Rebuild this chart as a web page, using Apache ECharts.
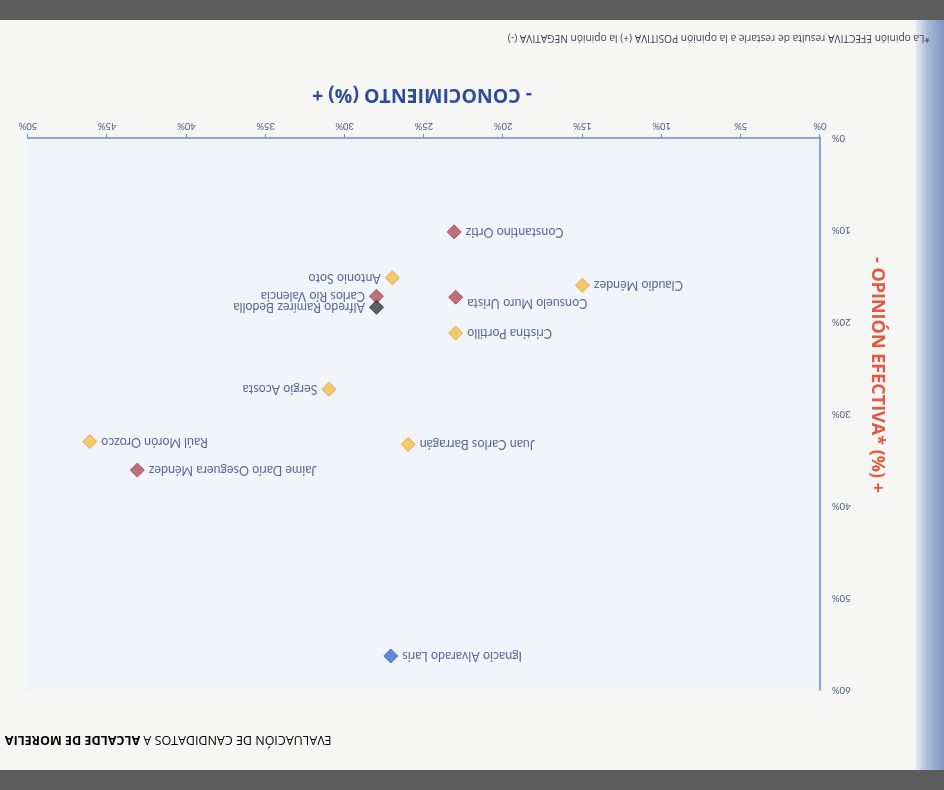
<!DOCTYPE html>
<html>
<head>
<meta charset="utf-8">
<script src="https://cdn.jsdelivr.net/npm/echarts@6/dist/echarts.min.js"></script>
<style>
  html, body { margin: 0; padding: 0; background: #f6f6f4; }
  #wrap { width: 944px; height: 790px; transform: rotate(180deg); transform-origin: 50% 50%; }
  #chart { width: 944px; height: 790px; }
</style>
</head>
<body>
<div id="wrap"><div id="chart"></div></div>
<script>
// ---- DATA ----
const candidatos = [
  "Constantino Ortiz", "Antonio Soto", "Claudio Méndez", "Consuelo Muro Urista",
  "Carlos Río Valencia", "Alfredo Ramírez Bedolla", "Cristina Portillo", "Sergio Acosta",
  "Raúl Morón Orozco", "Juan Carlos Barragán", "Jaime Darío Oseguera Méndez", "Ignacio Alvarado Laris"
];
const conocimiento = [23.1, 27.0, 15.0, 23.0, 28.0, 28.0, 23.0, 31.0, 46.1, 26.0, 43.1, 27.1];
const opinionEfectiva = [10.2, 15.2, 16.0, 17.3, 17.2, 18.4, 21.2, 27.3, 33.0, 33.3, 36.1, 56.3];
const grupo = ["rojo", "amarillo", "amarillo", "rojo", "rojo", "negro", "amarillo", "amarillo", "amarillo", "amarillo", "rojo", "azul"];
const xTicks = [0, 5, 10, 15, 20, 25, 30, 35, 40, 45, 50];
const yTicks = [0, 10, 20, 30, 40, 50, 60];
const titulo = ["EVALUACIÓN DE CANDIDATOS A ", "ALCALDE DE MORELIA"];
const ejeX = "- CONOCIMIENTO (%) +";
const ejeY = "- OPINIÓN EFECTIVA* (%) +";
const nota = "*La opinión EFECTIVA resulta de restarle a la opinión POSITIVA (+) la opinión NEGATIVA (-)";

// ---- STYLE ----
const estilos = {
  amarillo: { color: "#f4be4a", borderColor: "#e69a2c" },
  rojo:     { color: "#b04f5c", borderColor: "#9a3f4c" },
  negro:    { color: "#3a3a3e", borderColor: "#2a2a2e" },
  azul:     { color: "#3b6fd0", borderColor: "#2f5cb5" }
};
const etiquetaDerecha = new Set(["Antonio Soto", "Carlos Río Valencia", "Alfredo Ramírez Bedolla", "Sergio Acosta"]);

const grupos = ["amarillo", "rojo", "negro", "azul"];
const series = grupos.map(g => ({
  type: "scatter",
  name: g,
  symbol: "diamond",
  symbolSize: 14,
  itemStyle: { color: estilos[g].color, borderColor: estilos[g].borderColor, borderWidth: 1 },
  label: {
    show: true,
    formatter: p => p.data.name,
    color: "#33457a",
    fontFamily: "Lato",
    fontSize: 12.5,
    distance: 4
  },
  data: candidatos.map((n, i) => ({ n, i })).filter(o => grupo[o.i] === g).map(o => ({
    name: o.n,
    value: [conocimiento[o.i], opinionEfectiva[o.i]],
    label: {
      position: etiquetaDerecha.has(o.n) ? "right" : "left",
      offset: o.n === "Consuelo Muro Urista" ? [0, -6] : [0, 0]
    }
  }))
}));

const chart = echarts.init(document.getElementById("chart"), null, { renderer: "canvas" });
chart.setOption({
  backgroundColor: "#f6f6f4",
  animation: false,
  grid: { left: 124, right: 28, top: 100, bottom: 138, show: true, backgroundColor: "#f1f5fb", borderWidth: 0 },
  xAxis: {
    type: "value", min: xTicks[0], max: xTicks[xTicks.length - 1], interval: xTicks[1] - xTicks[0],
    axisLine: { show: true, lineStyle: { color: "#6a8ccb", width: 1.5 } },
    axisTick: { show: true, length: 4, lineStyle: { color: "#6a8ccb" } },
    splitLine: { show: false },
    axisLabel: { formatter: v => v + "%", color: "#4c5a80", fontSize: 9.5, fontFamily: "Lato", margin: 7 }
  },
  yAxis: {
    type: "value", min: yTicks[0], max: yTicks[yTicks.length - 1], interval: yTicks[1] - yTicks[0],
    axisLine: { show: true, lineStyle: { color: "#6a8ccb", width: 1.5 } },
    axisTick: { show: false },
    splitLine: { show: false },
    axisLabel: { formatter: v => v + "%", color: "#4c5a80", fontSize: 9.5, fontFamily: "Lato", margin: 12 }
  },
  graphic: [
    { type: "rect", left: 0, top: 0, shape: { width: 944, height: 20 }, style: { fill: "#5c5c5c" }, z: -1 },
    { type: "rect", left: 0, top: 770, shape: { width: 944, height: 20 }, style: { fill: "#5c5c5c" }, z: -1 },
    { type: "rect", left: 0, top: 20, shape: { width: 28, height: 750 },
      style: { fill: new echarts.graphic.LinearGradient(0, 0, 1, 0, [
        { offset: 0, color: "#7d97c2" }, { offset: 0.6, color: "#a9bddb" }, { offset: 1, color: "#e6ebf2" }]) }, z: -1 },
    { type: "text", x: 939, y: 50, z: 10,
      style: { text: "{a|" + titulo[0] + "}{b|" + titulo[1] + "}", align: "right", verticalAlign: "middle",
        rich: { a: { fontFamily: "Open Sans", fontSize: 12.5, color: "#24386a" },
                b: { fontFamily: "Open Sans", fontSize: 12.5, fontWeight: "bold", color: "#24386a" } } } },
    { type: "text", x: 522, y: 695, z: 10,
      style: { text: ejeX, align: "center", verticalAlign: "middle", fontFamily: "Open Sans", fontWeight: "bold", fontSize: 19.5, fill: "#2f4c9c" } },
    { type: "text", x: 67, y: 415, rotation: Math.PI / 2, z: 10,
      style: { text: ejeY, align: "center", verticalAlign: "middle", fontFamily: "Open Sans", fontWeight: "bold", fontSize: 18, fill: "#e5583e" } },
    { type: "text", x: 14, y: 752, z: 10,
      style: { text: nota, align: "left", verticalAlign: "middle", fontFamily: "Open Sans", fontSize: 10.2, fill: "#3e3e4a" } }
  ],
  series: series
});
</script>
</body>
</html>
